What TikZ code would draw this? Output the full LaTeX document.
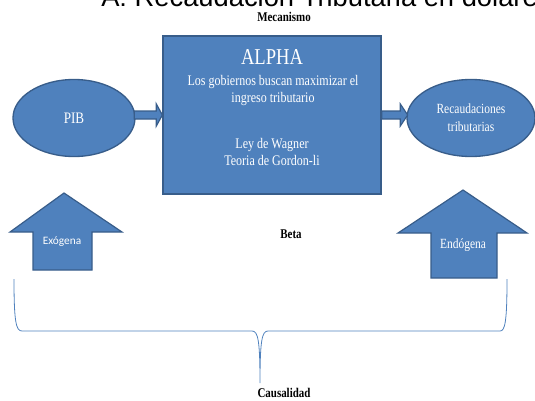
\documentclass[tikz,border=0pt]{standalone}
\usepackage{fontspec}
\setmainfont{Liberation Serif}[FakeStretch=0.82]
\newfontfamily\headfont{Liberation Sans}
\newfontfamily\calfont{Carlito}
\usetikzlibrary{positioning,shapes.geometric,calc}
\definecolor{boxblue}{HTML}{4F81BD}
\definecolor{boxedge}{HTML}{385D8A}

\begin{document}
\begin{tikzpicture}[x=0.75pt, y=-0.75pt,
    blob/.style={ellipse, draw=boxedge, line width=1pt, fill=boxblue, text=white, align=center, inner sep=0pt},
    mainbox/.style={rectangle, draw=boxedge, line width=1pt, fill=boxblue, minimum width=163.5pt, minimum height=118.5pt},
    blockarrow/.style={draw=boxedge, line width=0.9pt, fill=boxblue},
    inbox/.style={text=white, align=center, inner sep=0pt},
    label/.style={font=\bfseries\fontsize{10}{12}\selectfont, inner sep=0pt},
    brace/.style={draw=boxblue, line width=0.6pt}]

    \useasboundingbox (0,0) rectangle (535,400);

    % cut off heading at the top
    \node[anchor=base west, inner sep=0pt, font=\headfont\fontsize{20.5}{24}\selectfont] (head) at (101,6) {A: Recaudación Tributaria en dolares};

    \node[label] (mec) at (284,17) {Mecanismo};

    % main box and its texts
    \node[mainbox] (alpha) at (272,115) {};
    \node[inbox, font=\fontsize{17}{19}\selectfont] (alphatitle) at (272,57) {ALPHA};
    \node[inbox, font=\fontsize{11}{12.75}\selectfont] (idea) at (273,90.5) {Los gobiernos buscan maximizar el\\ingreso tributario};
    \node[inbox, font=\fontsize{11}{12.75}\selectfont] (theory) at (272,152) {Ley de Wagner\\Teoria de Gordon-li};

    \node[blob, minimum width=91.5pt, minimum height=57.75pt, font=\fontsize{12}{14}\selectfont] (pib) at (74,118) {PIB};
    \node[blob, minimum width=96pt, minimum height=57.75pt, font=\fontsize{10.5}{13.5}\selectfont] (rec) at (471,118) {Recaudaciones\\tributarias};

    % block arrows
    \draw[blockarrow] let \p1=(pib.east), \p2=(alpha.west) in
        (\x1-1pt,\y2+3pt) -- (\x2-4.5pt,\y2+3pt) -- (\x2-4.5pt,\y2+8.25pt) -- (\x2,\y2)
        -- (\x2-4.5pt,\y2-8.25pt) -- (\x2-4.5pt,\y2-3pt) -- (\x1-1pt,\y2-3pt) -- cycle;
    \draw[blockarrow] let \p1=(alpha.east), \p2=(rec.west) in
        (\x1,\y1+3pt) -- (\x2-4.5pt,\y1+3pt) -- (\x2-4.5pt,\y1+8.25pt) -- (\x2+1pt,\y1)
        -- (\x2-4.5pt,\y1-8.25pt) -- (\x2-4.5pt,\y1-3pt) -- (\x1,\y1-3pt) -- cycle;

    \node[label] (beta) at (291,234) {Beta};

    % up arrows
    \draw[blockarrow] (33,270) -- (33,232) -- (10,232) -- (64,193) -- (122,232) -- (92,232) -- (92,270) -- cycle;
    \node[inbox, font=\calfont\fontsize{8.5}{10}\selectfont] (exo) at (62,242) {Exógena};
    \draw[blockarrow] (431,278) -- (431,233) -- (398,233) -- (463,190) -- (527,233) -- (497,233) -- (497,278) -- cycle;
    \node[inbox, font=\fontsize{10.5}{12}\selectfont] (endo) at (463,245) {Endógena};

    % brace
    \coordinate (tip) at (260,383);
    \draw[brace] (14,279) .. controls (14,322) and (16,331) .. (22,331) -- (252,331)
        .. controls (258,331) and (260,340) .. (tip)
        .. controls (260,340) and (262,331) .. (268,331) -- (500,331)
        .. controls (505,331) and (507,322) .. (507,279);

    \node[label] (caus) at (284,393) {Causalidad};
\end{tikzpicture}
\end{document}
